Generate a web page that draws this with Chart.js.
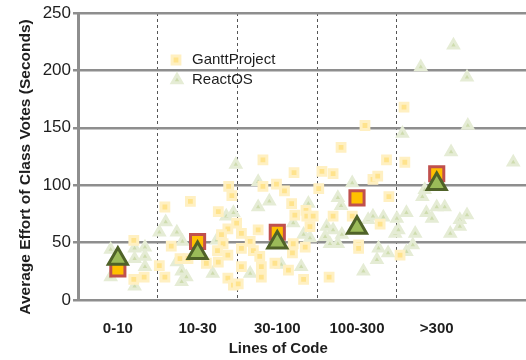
<!DOCTYPE html>
<html>
<head>
<meta charset="utf-8">
<script src="https://cdn.jsdelivr.net/npm/chart.js@4/dist/chart.umd.min.js"></script>
<style>
  html, body { margin: 0; padding: 0; background: #fff; }
  #wrap { width: 526px; height: 360px; }
</style>
</head>
<body>
<div id="wrap"><canvas id="effortChart" width="526" height="360"></canvas></div>
<script>
// Categories on the x axis (index = position on the linear scale)
const categories = ['0-10', '10-30', '30-100', '100-300', '>300'];
const yTicks = [0, 50, 100, 150, 200, 250];

// Per-category averages
const meanGantt = [27, 51, 59, 89, 110];
const meanReact = [36, 41, 50, 63, 101];

// Individual classes: [jittered category position, seconds]
const ganttPoints = [
  [0.20, 52], [0.20, 18], [0.33, 20],
  [0.52, 30], [0.59, 81], [0.91, 86], [1.26, 77], [1.39, 99], [1.43, 91], [0.67, 47],
  [0.78, 36], [0.88, 36], [0.59, 20], [1.26, 33], [1.38, 39], [1.38, 19], [1.45, 13],
  [1.11, 32], [1.38, 62], [1.49, 67], [1.30, 57], [1.32, 49], [1.25, 43],
  [1.82, 122], [2.21, 111], [1.82, 99], [1.99, 101], [2.09, 95], [2.18, 84], [2.22, 74],
  [2.36, 78], [2.37, 73], [2.45, 73], [2.41, 64], [1.76, 61], [1.55, 58], [1.66, 51],
  [1.70, 43], [1.55, 45], [1.78, 38], [1.97, 32], [2.20, 49], [2.35, 46], [2.19, 41],
  [2.14, 26], [1.80, 29], [1.80, 20], [2.33, 18], [1.55, 29], [1.51, 14],
  [2.52, 97], [3.10, 152], [2.80, 133], [3.37, 122], [2.56, 112], [2.70, 110], [3.20, 105],
  [3.26, 108], [3.40, 90], [2.70, 73], [2.94, 73], [3.29, 66], [3.02, 48], [3.02, 45], [2.65, 20],
  [3.59, 168], [3.60, 120], [3.54, 39]
];
const reactPoints = [
  [-0.09, 44], [-0.09, 20], [0.21, 45], [0.34, 46], [0.21, 36], [0.34, 38], [0.34, 29], [0.21, 12],
  [0.52, 59], [0.60, 68], [0.74, 59], [0.81, 51], [0.74, 33], [0.80, 25], [0.86, 20], [0.80, 16],
  [1.19, 23], [1.36, 73], [1.45, 76], [1.24, 52], [1.48, 118],
  [1.76, 103], [1.76, 81], [1.90, 86], [2.39, 84], [2.20, 67], [2.33, 57], [2.41, 54], [1.66, 23],
  [2.30, 29], [2.05, 31],
  [2.94, 102], [2.76, 89], [2.80, 82], [3.14, 70], [3.20, 73], [3.33, 72], [3.50, 71], [2.62, 64],
  [2.70, 61], [2.60, 55], [2.81, 57], [2.66, 49], [2.76, 49], [3.27, 45], [3.39, 41], [3.25, 35],
  [3.08, 25], [3.48, 58],
  [4.21, 222], [3.80, 203], [4.38, 194], [4.39, 152], [3.57, 145], [4.18, 129], [4.96, 120],
  [3.82, 90], [3.85, 96], [3.62, 76], [4.00, 81], [4.10, 81], [3.87, 76], [3.94, 71], [4.38, 74],
  [4.29, 70], [4.29, 64], [4.17, 58], [3.73, 58], [3.52, 61], [3.70, 48], [3.62, 42]
];

const xTitle = 'Lines of Code';
const yTitle = 'Average Effort of Class Votes (Seconds)';

const FONT = 'Liberation Sans, Arial, sans-serif';
const TEXT = '#1e1e1e';
const GRID = '#8e8e8e';

const toXY = arr => arr.map(p => ({ x: p[0], y: p[1] }));
const meanXY = arr => arr.map((v, i) => ({ x: i, y: v }));

const styles = {
  gantt: { pointStyle: 'rect', radius: 5.5, borderWidth: 3, bg: '#FFE38C', border: '#FFF0C2' },
  react: { pointStyle: 'triangle', radius: 5.5, borderWidth: 3, bg: '#CEDCAE', border: '#E5ECD5' }
};

// Legend inside the plot area + axis titles centred like the original figure
const annotations = {
  id: 'annotations',
  afterDatasetsDraw(chart) {
    const ctx = chart.ctx;
    const items = [
      { label: 'GanttProject', s: styles.gantt, x: 176, y: 60 },
      { label: 'ReactOS', s: styles.react, x: 177, y: 80 }
    ];
    ctx.save();
    items.forEach(it => {
      ctx.fillStyle = it.s.bg;
      ctx.strokeStyle = it.s.border;
      ctx.lineWidth = it.s.borderWidth;
      Chart.helpers.drawPoint(ctx, {
        pointStyle: it.s.pointStyle, radius: it.s.radius, borderWidth: it.s.borderWidth, rotation: 0
      }, it.x, it.y);
      ctx.fillStyle = TEXT;
      ctx.font = '15px ' + FONT;
      ctx.textBaseline = 'middle';
      ctx.textAlign = 'left';
      ctx.fillText(it.label, 192, it.y);
    });
    ctx.restore();
  },
  afterDraw(chart) {
    const ctx = chart.ctx;
    const xs = chart.scales.x;
    ctx.save();
    ctx.fillStyle = TEXT;
    ctx.font = 'bold 15px ' + FONT;
    ctx.textAlign = 'center';
    ctx.textBaseline = 'alphabetic';
    ctx.fillText(xTitle, xs.getPixelForValue(2) + 1, 353);

    ctx.translate(30, 167);
    ctx.rotate(-Math.PI / 2);
    ctx.font = 'bold 15.5px ' + FONT;
    ctx.fillText(yTitle, 0, 0);
    ctx.restore();
  }
};

const ctx = document.getElementById('effortChart').getContext('2d');
new Chart(ctx, {
  type: 'scatter',
  data: {
    datasets: [
      {
        label: 'ReactOS mean',
        data: meanXY(meanReact),
        pointStyle: 'triangle',
        pointRadius: 11,
        pointBackgroundColor: '#9BBB59',
        pointBorderColor: '#4F6228',
        pointBorderWidth: 3
      },
      {
        label: 'GanttProject mean',
        data: meanXY(meanGantt),
        pointStyle: 'rect',
        pointRadius: 10,
        pointBackgroundColor: '#FFC000',
        pointBorderColor: '#C0504D',
        pointBorderWidth: 3
      },
      {
        label: 'GanttProject',
        data: toXY(ganttPoints),
        pointStyle: styles.gantt.pointStyle,
        pointRadius: styles.gantt.radius,
        pointBackgroundColor: styles.gantt.bg,
        pointBorderColor: styles.gantt.border,
        pointBorderWidth: styles.gantt.borderWidth
      },
      {
        label: 'ReactOS',
        data: toXY(reactPoints),
        pointStyle: styles.react.pointStyle,
        pointRadius: styles.react.radius,
        pointBackgroundColor: styles.react.bg,
        pointBorderColor: styles.react.border,
        pointBorderWidth: styles.react.borderWidth
      }
    ]
  },
  options: {
    responsive: false,
    animation: false,
    devicePixelRatio: 1,
    layout: { autoPadding: false, padding: { top: 13, right: 0, left: 0, bottom: 0 } },
    plugins: {
      legend: { display: false },
      tooltip: { enabled: false }
    },
    scales: {
      x: {
        type: 'linear',
        min: -0.5,
        max: 5.12,
        afterBuildTicks: s => { s.ticks = [0, 0.5, 1, 1.5, 2, 2.5, 3, 3.5, 4].map(v => ({ value: v })); },
        afterFit: s => { s.height = 60; s.paddingLeft = 0; s.paddingRight = 0; },
        grid: {
          color: c => (c.tick && c.tick.value % 1 !== 0) ? '#555' : 'rgba(0,0,0,0)',
          lineWidth: 1,
          drawTicks: false
        },
        border: { display: false, dash: [3, 3] },
        ticks: {
          autoSkip: false,
          maxRotation: 0,
          padding: 20,
          color: TEXT,
          font: { family: FONT, size: 15, weight: 'bold' },
          callback: v => Number.isInteger(v) ? categories[v] : ''
        },
        title: { display: false }
      },
      y: {
        min: 0,
        max: 250,
        afterBuildTicks: s => { s.ticks = yTicks.map(v => ({ value: v })); },
        afterFit: s => { s.width = 78; },
        grid: { color: GRID, lineWidth: 2.5, tickLength: 5, tickColor: GRID },
        border: { display: true, color: GRID, width: 3 },
        ticks: {
          padding: 2,
          color: TEXT,
          font: { family: FONT, size: 17 }
        },
        title: { display: false }
      }
    }
  },
  plugins: [annotations]
});
</script>
</body>
</html>
